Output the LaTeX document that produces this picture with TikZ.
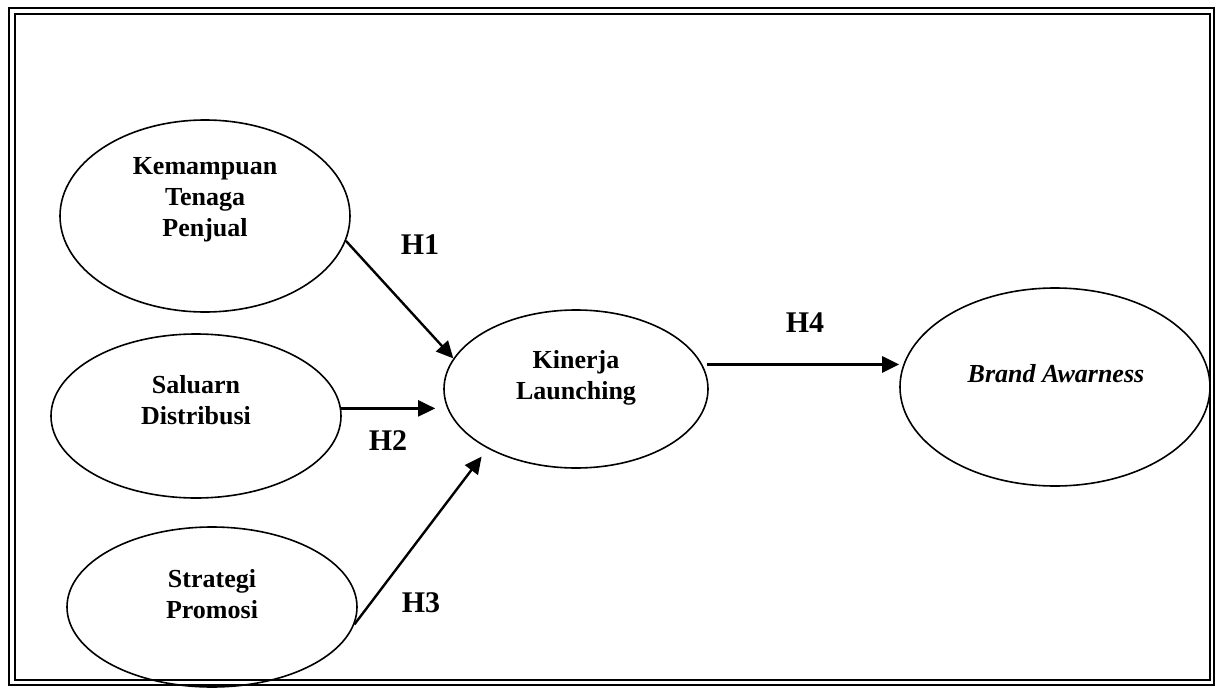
\documentclass[tikz,border=0pt]{standalone}
\usepackage{fontspec}
\setmainfont{Liberation Serif}
\usetikzlibrary{shapes.geometric,arrows.meta}

\begin{document}
\begin{tikzpicture}[x=1pt, y=-1pt,
    var node/.style={ellipse, draw, line width=1.6pt, inner sep=0pt},
    var text/.style={font=\bfseries\fontsize{26}{31}\selectfont, align=center, inner sep=0pt},
    hyp/.style={font=\bfseries\fontsize{30}{36}\selectfont, inner sep=0pt},
    arr/.style={line width=2.4pt, -{Triangle[length=17pt,width=16pt]}}]

  \useasboundingbox (0,0) rectangle (1216,688);

  % double frame
  \draw[line width=2.2pt] (9,8) rectangle (1214,685);
  \draw[line width=2.2pt] (15,14) rectangle (1210,680);

  \node[var node, minimum width=290pt, minimum height=192pt] (kemampuan) at (205,216) {};
  \node[var node, minimum width=290pt, minimum height=164pt] (saluarn) at (196,416) {};
  \node[var node, minimum width=290pt, minimum height=160pt] (strategi) at (212,607) {};
  \node[var node, minimum width=264pt, minimum height=158pt] (kinerja) at (576,389) {};
  \node[var node, minimum width=310pt, minimum height=198pt] (brand) at (1055,387) {};

  \node[var text] (t1) at (205,200) {Kemampuan\\Tenaga\\Penjual};
  \node[var text] (t2) at (196,400) {Saluarn\\Distribusi};
  \node[var text] (t3) at (212,594) {Strategi\\Promosi};
  \node[var text] (t4) at (576,378) {Kinerja\\Launching};
  \node[var text, font=\bfseries\itshape\fontsize{26}{31}\selectfont] (t5) at (1056,374) {Brand Awarness};

  \draw[arr] (kemampuan.-10) -- (kinerja.166);
  \draw[arr, shorten >=8pt] (saluarn.3) -- (saluarn.3 -| kinerja.west);
  \draw[arr, shorten >=10pt] (strategi.-7) -- (kinerja.214);
  \draw[arr, shorten <=5pt] (kinerja.11) -- (kinerja.11 -| brand.west);

  \node[hyp] (h1) at (420,245) {H1};
  \node[hyp] (h2) at (388,441) {H2};
  \node[hyp] (h3) at (421,603) {H3};
  \node[hyp] (h4) at (805,323) {H4};
\end{tikzpicture}
\end{document}
